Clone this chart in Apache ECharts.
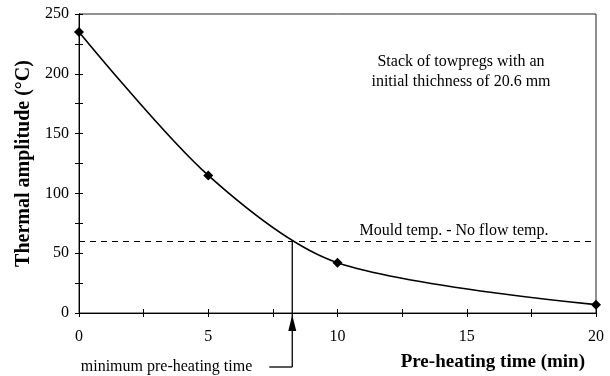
<!DOCTYPE html>
<html><head><meta charset="utf-8">
<script src="https://cdn.jsdelivr.net/npm/echarts@6/dist/echarts.min.js"></script>
<style>html,body{margin:0;padding:0;background:#fff}#c{width:610px;height:376px}</style>
</head><body><div id="c"></div>
<script>
const timeMin = [0, 5, 10, 20];
const amplitude = [235, 115, 42, 7];
const mouldTemp = 60;
const minPreheat = 8.25;
const xRange = [0, 20];
const yRange = [0, 250];
const yLabel = 'Thermal amplitude (\u00B0C)';
const xLabel = 'Pre-heating time (min)';
const noteLines = ['Stack of towpregs with an', 'initial thichness of 20.6 mm'];
const mouldLabel = 'Mould temp. - No flow temp.';
const arrowLabel = 'minimum pre-heating time';

const FONT = '"Liberation Serif", "DejaVu Serif", serif';
const chart = echarts.init(document.getElementById('c'));
const axisCommon = {
  axisLine: {lineStyle: {color: '#000', width: 1}},
  splitLine: {show: false},
  minorSplitLine: {show: false}
};
chart.setOption({
  animation: false,
  grid: {left: 79, right: 14, top: 14, bottom: 63, show: true, borderColor: '#222', borderWidth: 1},
  xAxis: [
    Object.assign({type: 'value', min: xRange[0], max: xRange[1], interval: 5,
      axisTick: {length: 4, lineStyle: {color: '#000'}},
      minorTick: {show: true, splitNumber: 2, length: 4, lineStyle: {color: '#000'}},
      axisLabel: {fontFamily: FONT, fontSize: 16, color: '#000', margin: 16}}, axisCommon),
    Object.assign({type: 'value', min: xRange[0], max: xRange[1], interval: 5, position: 'bottom',
      axisTick: {inside: true, length: 4, lineStyle: {color: '#000'}},
      minorTick: {show: true, splitNumber: 2, length: 4, lineStyle: {color: '#000'}},
      axisLabel: {show: false}}, axisCommon)
  ],
  yAxis: [
    Object.assign({type: 'value', min: yRange[0], max: yRange[1], interval: 50,
      name: yLabel, nameLocation: 'middle', nameGap: 44,
      nameTextStyle: {fontFamily: FONT, fontSize: 20, fontWeight: 'bold', color: '#000'},
      axisTick: {length: 4, lineStyle: {color: '#000'}},
      minorTick: {show: true, splitNumber: 2, length: 4, lineStyle: {color: '#000'}},
      axisLabel: {fontFamily: FONT, fontSize: 16, color: '#000', margin: 10}}, axisCommon),
    Object.assign({type: 'value', min: yRange[0], max: yRange[1], interval: 50, position: 'left',
      axisTick: {inside: true, length: 4, lineStyle: {color: '#000'}},
      minorTick: {show: true, splitNumber: 2, length: 4, lineStyle: {color: '#000'}},
      axisLabel: {show: false}}, axisCommon)
  ],
  series: [{
    type: 'line',
    data: timeMin.map((t, i) => [t, amplitude[i]]),
    smooth: 0.3,
    symbol: 'diamond', symbolSize: 10,
    itemStyle: {color: '#000'},
    lineStyle: {color: '#000', width: 1.6},
    clip: false,
    markLine: {
      silent: true, symbol: 'none', label: {show: false},
      lineStyle: {color: '#000', type: [6, 5], width: 1},
      data: [[{coord: [xRange[0], mouldTemp]}, {coord: [xRange[1], mouldTemp]}]]
    }
  }]
});

function drawOverlay() {
  const p = (x, y) => chart.convertToPixel({xAxisIndex: 0, yAxisIndex: 0}, [x, y]);
  const [vx, vy] = p(minPreheat, mouldTemp);
  const [, y0] = p(minPreheat, yRange[0]);
  const [xEnd, yTop] = p(xRange[1], yRange[1]);
  const bottomY = y0 + 54;
  chart.setOption({graphic: [
    {type: 'line', shape: {x1: vx, y1: vy, x2: vx, y2: bottomY}, style: {stroke: '#000', lineWidth: 1.3}},
    {type: 'line', shape: {x1: vx - 23, y1: bottomY, x2: vx, y2: bottomY}, style: {stroke: '#000', lineWidth: 1.3}},
    {type: 'polygon', shape: {points: [[vx, y0 + 2], [vx - 4, y0 + 18], [vx + 4, y0 + 18]]}, style: {fill: '#000'}},
    {type: 'text', x: vx - 40, y: bottomY, style: {text: arrowLabel, font: '16px ' + FONT, fill: '#000', textAlign: 'right', textVerticalAlign: 'middle'}},
    {type: 'text', x: xEnd - 11, y: y0 + 49, style: {text: xLabel, font: 'bold 19px ' + FONT, fill: '#000', textAlign: 'right', textVerticalAlign: 'middle'}},
    {type: 'text', x: xEnd - 135, y: yTop + 58, style: {text: noteLines.join('\n'), font: '16px ' + FONT, lineHeight: 20, fill: '#000', textAlign: 'center', textVerticalAlign: 'middle'}},
    {type: 'text', x: xEnd - 142, y: vy - 10, style: {text: mouldLabel, font: '16px ' + FONT, fill: '#000', textAlign: 'center', textVerticalAlign: 'middle'}}
  ]});
}
drawOverlay();
</script></body></html>
